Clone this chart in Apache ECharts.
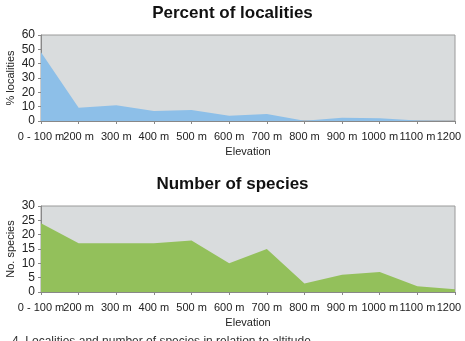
<!DOCTYPE html>
<html lang="en">
<head>
    <meta charset="UTF-8">
    <title>Localities and species by elevation</title>
    <script src="https://cdn.jsdelivr.net/npm/echarts@6.0.0/dist/echarts.min.js"></script>
    <style>
        html, body { margin: 0; padding: 0; background: #fff; }
        #chart { width: 465px; height: 341px; }
    </style>
</head>
<body>
<div id="chart"></div>
<script>
    // elevation classes
    var categories = ['0 - 100 m', '200 m', '300 m', '400 m', '500 m', '600 m',
        '700 m', '800 m', '900 m', '1000 m', '1100 m', '1200 m'];
    // % localities per class
    var pctLocalities = [48, 9.2, 11, 7, 7.6, 3.6, 4.8, 0.2, 2.3, 2, 0.4, 0.1];
    // number of species per class
    var nSpecies = [24, 17, 17, 17, 18, 10, 15, 3, 6, 7, 2, 1];

    var font = 'Liberation Sans, Arial, sans-serif';

    function xAxis(idx) {
        return {
            type: 'category',
            gridIndex: idx,
            data: categories,
            boundaryGap: false,
            name: 'Elevation',
            nameLocation: 'middle',
            nameGap: 25,
            nameTextStyle: {fontFamily: font, fontSize: 11, color: '#222'},
            axisLine: {lineStyle: {color: '#888'}},
            axisTick: {show: true, length: 3, alignWithLabel: true, lineStyle: {color: '#888'}},
            axisLabel: {fontFamily: font, fontSize: 11, color: '#222', margin: 10, interval: 0, hideOverlap: false},
            splitLine: {show: false}
        };
    }

    function yAxis(idx, max, step, name) {
        return {
            type: 'value',
            gridIndex: idx,
            min: 0,
            max: max,
            interval: step,
            name: name,
            nameLocation: 'middle',
            nameGap: 25,
            nameMoveOverlap: false,
            nameTextStyle: {fontFamily: font, fontSize: 11, color: '#222'},
            axisLine: {show: true, lineStyle: {color: '#888'}},
            axisTick: {show: true, length: 3, lineStyle: {color: '#888'}},
            axisLabel: {fontFamily: font, fontSize: 12, color: '#222', margin: 6},
            splitLine: {show: false}
        };
    }

    var chart = echarts.init(document.getElementById('chart'));
    chart.setOption({
        animation: false,
        title: [{
            text: 'Percent of localities',
            left: 'center',
            top: 0,
            textStyle: {fontFamily: font, fontSize: 17, fontWeight: 'bold', color: '#111'}
        }, {
            text: 'Number of species',
            left: 'center',
            top: 171,
            textStyle: {fontFamily: font, fontSize: 17, fontWeight: 'bold', color: '#111'}
        }],
        graphic: [{
            type: 'text',
            left: 12,
            top: 336,
            style: {
                text: '4. Localities and number of species in relation to altitude.',
                fontFamily: font, fontSize: 12, fill: '#333'
            }
        }],
        grid: [
            {left: 41, right: 10, top: 35, height: 86, outerBoundsMode: 'none', show: true, backgroundColor: '#d9dcdd', borderColor: '#9a9a9a'},
            {left: 41, right: 10, top: 206, height: 86, outerBoundsMode: 'none', show: true, backgroundColor: '#d9dcdd', borderColor: '#9a9a9a'}
        ],
        xAxis: [xAxis(0), xAxis(1)],
        yAxis: [yAxis(0, 60, 10, '% localities'), yAxis(1, 30, 5, 'No. species')],
        series: [{
            type: 'line',
            xAxisIndex: 0,
            yAxisIndex: 0,
            data: pctLocalities,
            symbol: 'none',
            lineStyle: {width: 0},
            areaStyle: {color: '#8dbfe8', opacity: 1}
        }, {
            type: 'line',
            xAxisIndex: 1,
            yAxisIndex: 1,
            data: nSpecies,
            symbol: 'none',
            lineStyle: {width: 0},
            areaStyle: {color: '#93c05b', opacity: 1}
        }]
    });
</script>
</body>
</html>
